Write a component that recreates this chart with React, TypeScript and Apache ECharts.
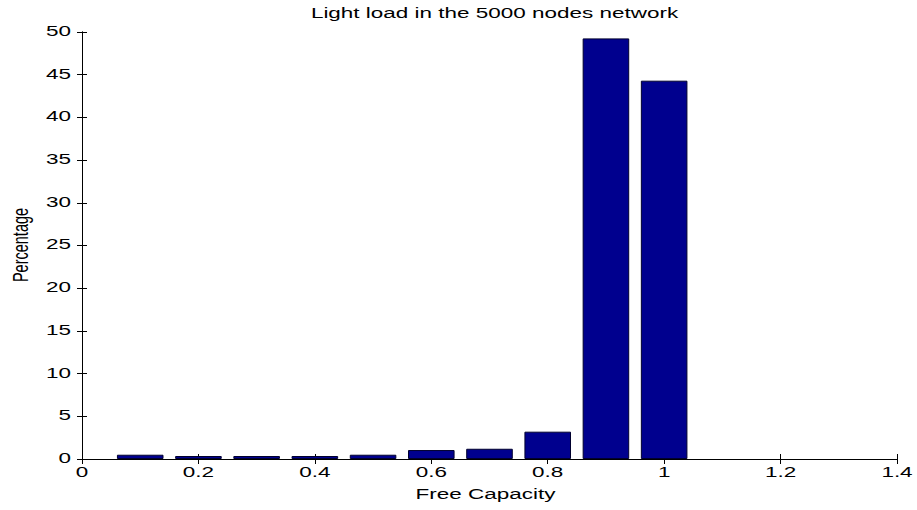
import React, { useEffect, useRef } from "react";
import * as echarts from "echarts";

// Histogram of free capacity across nodes
const capacity = [0.1, 0.2, 0.3, 0.4, 0.5, 0.6, 0.7, 0.8, 0.9, 1.0];
const percentage = [0.5, 0.35, 0.35, 0.35, 0.5, 1.05, 1.2, 3.2, 49.25, 44.3];

const xTickValues = [0, 0.2, 0.4, 0.6, 0.8, 1.0, 1.2, 1.4];
const yTickValues = [0, 5, 10, 15, 20, 25, 30, 35, 40, 45, 50];

const titleText = "Light load in the 5000 nodes network";
const xName = "Free Capacity";
const yName = "Percentage";

const FONT = '14.5px "Liberation Sans", Arial, sans-serif';
// horizontal stretch of the wide plotting font
const STRETCH = 1.55;

const fmtX = (v: number) => String(parseFloat(v.toFixed(1)));

function label(text: string, x: number, y: number, align: string, extra: any = {}) {
  return {
    type: "text",
    x,
    y,
    scaleX: STRETCH,
    silent: true,
    ...extra,
    style: {
      text,
      font: FONT,
      fill: "#000",
      align,
      verticalAlign: "middle",
      textAlign: align,
      textVerticalAlign: "middle",
    },
  };
}

export default function App() {
  const ref = useRef<HTMLDivElement>(null);

  useEffect(() => {
    if (!ref.current) return;
    const chart = echarts.init(ref.current, undefined, { renderer: "svg" });

    const gridLeft = 82;
    const gridRight = 20;
    const gridTop = 32;
    const gridBottom = 51;
    const plotWidth = 917 - gridLeft - gridRight;
    const xMax = 1.4;
    const barW = (0.08 / xMax) * plotWidth;

    const lineStyle = { color: "#000", width: 1 };
    const tick = { show: true, inside: true, length: 5, lineStyle };

    const xAxisBase = {
      type: "value",
      min: 0,
      max: xMax,
      interval: 0.2,
      axisLine: { show: true, lineStyle },
      axisTick: tick,
      axisLabel: { show: false },
      splitLine: { show: false },
    };
    const yAxisBase = {
      type: "value",
      min: 0,
      max: 50,
      interval: 5,
      axisLine: { show: true, lineStyle },
      axisTick: tick,
      axisLabel: { show: false },
      splitLine: { show: false },
    };

    chart.setOption({
      animation: false,
      backgroundColor: "#fff",
      grid: { left: gridLeft, right: gridRight, top: gridTop, bottom: gridBottom, containLabel: false },
      xAxis: [
        { ...xAxisBase, position: "bottom" },
        { ...xAxisBase, position: "top" },
      ],
      yAxis: [
        { ...yAxisBase, position: "left" },
        { ...yAxisBase, position: "right" },
      ],
      series: [
        {
          type: "bar",
          xAxisIndex: 0,
          yAxisIndex: 0,
          barWidth: barW,
          data: capacity.map((c, i) => [c, percentage[i]]),
          itemStyle: { color: "#00008e", borderColor: "#00002e", borderWidth: 1 },
        },
      ],
    });

    // tick labels and titles placed from the axis scales
    const axisBottom = 510 - gridBottom;
    const graphics: any[] = [];
    xTickValues.forEach((v) => {
      const px = chart.convertToPixel({ xAxisIndex: 0 }, v) as number;
      graphics.push(label(fmtX(v), px, axisBottom + 13, "center"));
    });
    yTickValues.forEach((v) => {
      const py = chart.convertToPixel({ yAxisIndex: 0 }, v) as number;
      graphics.push(label(String(v), gridLeft - 11, py - 1, "right"));
    });
    const midX = gridLeft + plotWidth / 2;
    graphics.push(label(titleText, midX + 5, 13, "center"));
    graphics.push(label(xName, midX - 4, 494, "center"));
    graphics.push(
      label(yName, 20, 245, "center", { rotation: Math.PI / 2, scaleX: 1, scaleY: STRETCH })
    );

    chart.setOption({ graphic: graphics });

    return () => chart.dispose();
  }, []);

  return <div ref={ref} style={{ width: 917, height: 510, position: "absolute", left: 0, top: 0 }} />;
}
